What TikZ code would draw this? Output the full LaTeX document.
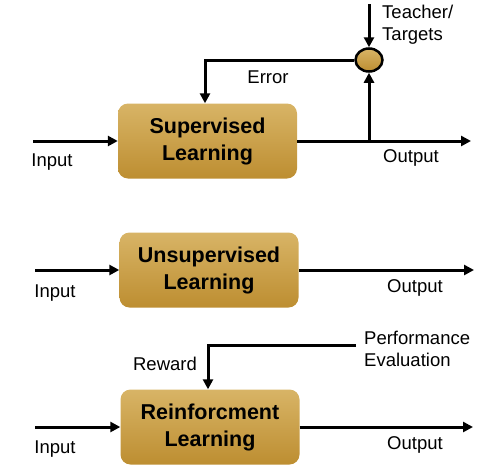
\documentclass[tikz,border=0pt]{standalone}
\usepackage{fontspec}
\setmainfont{Liberation Sans}
\usetikzlibrary{arrows.meta,shapes.geometric}
\definecolor{boxtop}{HTML}{D8B466}
\definecolor{boxbot}{HTML}{BD8E31}
\begin{document}
\begin{tikzpicture}[x=1pt,y=-1pt,
  learnbox/.style={draw=none, rounded corners=10pt, minimum width=179pt, minimum height=75pt,
    top color=boxtop, bottom color=boxbot, align=center, inner sep=0pt,
    font=\fontsize{21.5}{27}\selectfont\bfseries},
  lab/.style={font=\fontsize{18.5}{22}\selectfont, align=left, inner sep=0pt},
  arr/.style={-{Triangle[length=10pt,width=10pt]}, line width=3pt},
  ln/.style={line width=3pt}]
\useasboundingbox (0,0) rectangle (502,474);
% boxes
\node[learnbox] (b1) at (207.5,141) {Supervised\\Learning};
\node[learnbox] (b2) at (209,270) {Unsupervised\\Learning};
\node[learnbox] (b3) at (210,427) {Reinforcment\\Learning};
\node[ellipse, draw=black, line width=2.5pt, minimum width=27pt, minimum height=23pt,
  inner sep=0pt, top color=boxtop, bottom color=boxbot] (circ) at (369,60) {};
% labels
\node[lab] (li1) at (52,162) {Input};
\node[lab] (lo1) at (411,158) {Output};
\node[lab] (lerr) at (268,77) {Error};
\node[lab, anchor=west] (lt) at (382,25) {Teacher/\\Targets};
\node[lab] (li2) at (55,293) {Input};
\node[lab] (lo2) at (415,288) {Output};
\node[lab] (li3) at (55,449) {Input};
\node[lab] (lo3) at (415,445) {Output};
\node[lab] (lrw) at (165,364) {Reward};
\node[lab, anchor=west] (lpe) at (364,349) {Performance\\Evaluation};
% coordinates
\coordinate (in1) at (33,141);
\coordinate (out1) at (471,141);
\coordinate (j1) at (369,141);
\coordinate (t1) at (369,4);
\coordinate (in2) at (35,270);
\coordinate (out2) at (474,270);
\coordinate (in3) at (35,427);
\coordinate (out3) at (473,427);
\coordinate (pe) at (356,345);
% connectors
\draw[arr] (in1) -- (b1.west);
\draw[arr] (b1.east) -- (out1);
\draw[arr] (j1) -- (circ.south);
\draw[arr] (t1) -- (circ.north);
\draw[arr] (circ.west) -| ([xshift=-2.5pt]b1.north);
\draw[arr] (in2) -- (b2.west);
\draw[arr] (b2.east) -- (out2);
\draw[arr] (in3) -- (b3.west);
\draw[arr] (b3.east) -- (out3);
\draw[arr] (pe) -| ([xshift=-2pt]b3.north);
\end{tikzpicture}
\end{document}
